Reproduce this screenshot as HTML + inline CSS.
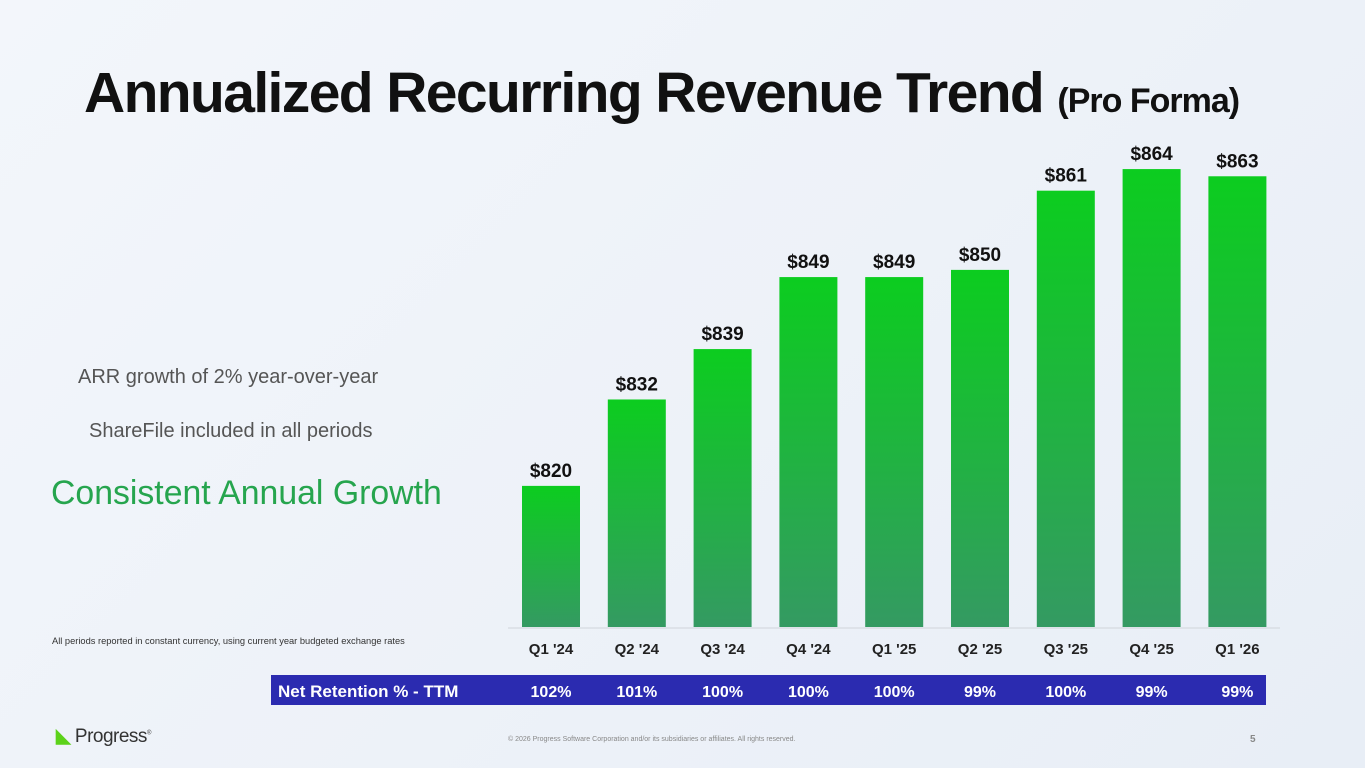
<!DOCTYPE html>
<html><head><meta charset="utf-8"><style>
body{margin:0;width:1365px;height:768px;overflow:hidden;background:linear-gradient(135deg,#f3f6fb,#e8eef6);font-family:"Liberation Sans",sans-serif;position:relative}
.t{position:absolute;white-space:nowrap}
</style></head><body>
<div class="t" style="left:84px;top:60px;font-size:57px;font-weight:bold;color:#111;letter-spacing:-1.6px">Annualized Recurring Revenue Trend <span style="font-size:34px;letter-spacing:-1px">(Pro Forma)</span></div>
<div class="t" style="left:78px;top:366px;font-size:20px;color:#555">ARR growth of 2% year-over-year</div>
<div class="t" style="left:89px;top:420px;font-size:20px;color:#555">ShareFile included in all periods</div>
<div class="t" style="left:51px;top:474px;font-size:33.8px;color:#26a54e">Consistent Annual Growth</div>
<div class="t" style="left:52px;top:636px;font-size:9.3px;color:#333">All periods reported in constant currency, using current year budgeted exchange rates</div>
<svg id="chart" width="1365" height="768" style="position:absolute;left:0;top:0">
<defs><linearGradient id="g" x1="0" y1="0" x2="0" y2="1"><stop offset="0" stop-color="#0ccd1f"/><stop offset="1" stop-color="#349a62"/></linearGradient></defs>
</svg>
<div class="t" style="left:508px;top:736px;font-size:7px;color:#888">© 2026 Progress Software Corporation and/or its subsidiaries or affiliates. All rights reserved.</div>
<div class="t" style="left:1250px;top:734px;font-size:10px;font-weight:bold;color:#888">5</div>
<div class="t" style="left:56px;top:725px;font-size:19px;color:#333;letter-spacing:-0.5px"><span style="color:#5cd21a;font-weight:bold">◣</span> Progress<sup style="font-size:6px">®</sup></div>
<script>
const categories=["Q1 '24","Q2 '24","Q3 '24","Q4 '24","Q1 '25","Q2 '25","Q3 '25","Q4 '25","Q1 '26"];
const values=[820,832,839,849,849,850,861,864,863];
const retention=["102%","101%","100%","100%","100%","99%","100%","99%","99%"];
const NS="http://www.w3.org/2000/svg";
const svg=document.getElementById('chart');
const base=627,vmin=800.4,k=7.2,x0=551,step=85.8,bw=58;
const y=v=>base-(v-vmin)*k, x=i=>x0+i*step;
function mk(t,a){const e=document.createElementNS(NS,t);for(const n in a)e.setAttribute(n,a[n]);svg.appendChild(e);return e;}
const ax=mk('line',{x1:508,x2:1280,y1:base+1,y2:base+1,stroke:'#d0d4da','stroke-width':1});


const band=mk('rect',{x:271,y:675,width:995,height:30,fill:'#2b2bb0'});


const lab=mk('text',{x:278,y:697,'font-size':17,'font-weight':'bold',fill:'#fff'});
lab.textContent='Net Retention % - TTM';


values.forEach((v,i)=>{
 const r=mk('rect',{x:x(i)-bw/2,y:y(v),width:bw,height:base-y(v),fill:'url(#g)'});
 
 
 const t=mk('text',{x:x(i),y:y(v)-9,'text-anchor':'middle','font-size':19,'font-weight':'bold',fill:'#111'});
 t.textContent='$'+v;
 
 
 const c=mk('text',{x:x(i),y:654,'text-anchor':'middle','font-size':15,'font-weight':'bold',fill:'#222'});
 c.textContent=categories[i];
 
 
 const n=mk('text',{x:x(i),y:697,'text-anchor':'middle','font-size':16,'font-weight':'bold',fill:'#fff'});
 n.textContent=retention[i];
 
 
});
</script>
</body></html>
